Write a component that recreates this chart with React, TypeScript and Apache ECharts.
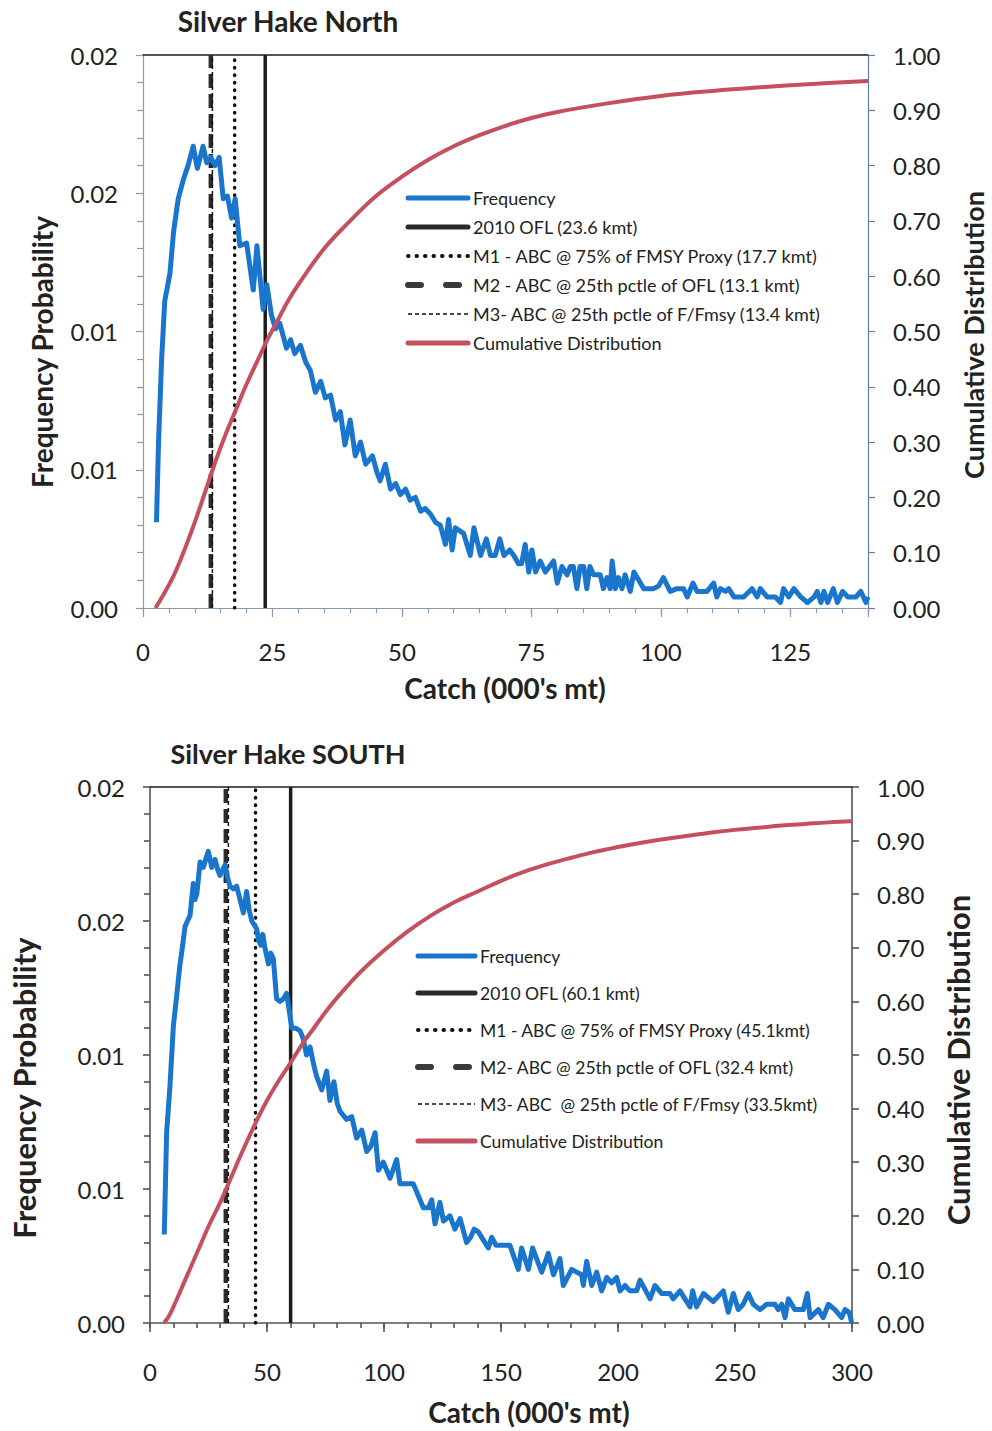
import React, { useEffect, useRef } from "react";
import * as echarts from "echarts";

const FONT = "Lato, 'Open Sans', sans-serif";
const BLUE = "#1a76cc";
const RED = "#c4505e";
const INK = "#222222";

// ---------- Silver Hake North ----------
const northTitle = "Silver Hake North";
const northFrequency: [number, number][] = [
  [2.6, 0.0031], [3.0, 0.006], [3.6, 0.009], [4.2, 0.0111], [5.2, 0.0121], [5.9, 0.0136], [6.8, 0.0148],
  [7.8, 0.0155], [8.7, 0.016], [9.7, 0.0167], [10.5, 0.0159], [11.6, 0.0167], [12.3, 0.0161], [13.1, 0.0163],
  [13.9, 0.016], [14.7, 0.0163], [15.5, 0.0148], [16.3, 0.0149], [17.1, 0.0141], [17.8, 0.0148], [18.7, 0.0131],
  [20.0, 0.0132], [21.3, 0.0115], [22.0, 0.0131], [23.2, 0.0108], [23.9, 0.0117], [24.8, 0.0106], [25.6, 0.0101],
  [26.4, 0.0103], [27.7, 0.0094], [28.5, 0.0097], [29.3, 0.0092], [30.4, 0.0095], [31.4, 0.0089], [32.3, 0.0086],
  [33.3, 0.0078], [34.3, 0.0082], [35.2, 0.0076], [36.2, 0.0077], [37.2, 0.0068], [38.1, 0.0071], [39.0, 0.0059],
  [40.0, 0.0068], [41.0, 0.0055], [42.0, 0.006], [43.0, 0.0052], [44.3, 0.0055], [45.2, 0.0049], [45.8, 0.0046],
  [46.8, 0.0052], [47.8, 0.0043], [48.8, 0.0045], [49.7, 0.0041], [50.7, 0.0043], [51.6, 0.0039], [52.6, 0.004],
  [53.6, 0.0035], [54.5, 0.0036], [55.5, 0.0034], [56.5, 0.0031], [57.4, 0.003], [58.4, 0.0023], [59.0, 0.0032],
  [59.7, 0.0021], [60.3, 0.0029], [61.9, 0.0027], [63.2, 0.0019], [63.9, 0.0029], [65.2, 0.0019], [66.3, 0.0025],
  [67.1, 0.0019], [68.0, 0.0019], [68.9, 0.0025], [69.7, 0.0019], [70.8, 0.0021], [71.6, 0.0019], [72.5, 0.0016],
  [73.1, 0.0016], [73.8, 0.0023], [74.5, 0.0013], [75.1, 0.0021], [75.8, 0.0013], [76.7, 0.0017], [77.7, 0.0013],
  [79.3, 0.0017], [80.0, 0.0009], [80.9, 0.0015], [81.9, 0.0012], [82.5, 0.0015], [83.1, 0.0015], [83.8, 0.0007],
  [84.4, 0.0015], [85.1, 0.0015], [85.7, 0.0007], [86.3, 0.0015], [87.0, 0.0012], [88.3, 0.0012], [88.9, 0.0007],
  [89.6, 0.0011], [90.2, 0.0007], [90.6, 0.0017], [91.2, 0.0007], [91.8, 0.0011], [92.5, 0.0007], [93.1, 0.0012],
  [94.1, 0.0006], [94.8, 0.0013], [96.7, 0.0007], [98.6, 0.0007], [99.6, 0.0008], [100.5, 0.0011], [101.8, 0.0006],
  [103.1, 0.0007], [104.4, 0.0007], [105.1, 0.0004], [106.2, 0.0009], [107.0, 0.0006], [108.9, 0.0006],
  [110.2, 0.0009], [110.8, 0.0004], [111.5, 0.0007], [112.5, 0.0006], [113.1, 0.0007], [114.1, 0.0004],
  [116.0, 0.0004], [117.6, 0.0007], [118.6, 0.0004], [119.2, 0.0007], [120.5, 0.0004], [122.1, 0.0004],
  [123.1, 0.0002], [123.7, 0.0007], [124.7, 0.0004], [125.7, 0.0007], [127.0, 0.0004], [128.3, 0.0002],
  [129.6, 0.0004], [130.2, 0.0006], [130.9, 0.0002], [131.5, 0.0006], [132.2, 0.0002], [133.3, 0.0007],
  [134.1, 0.0002], [135.1, 0.0006], [136.1, 0.0004], [137.7, 0.0004], [138.6, 0.0006], [139.6, 0.0002],
  [140.0, 0.0004],
];
const northCumulative: [number, number][] = [
  [2.4, 0], [4, 0.025], [6, 0.06], [8, 0.105], [10, 0.155], [12, 0.21], [14, 0.265], [16, 0.315], [18, 0.36],
  [20, 0.405], [22, 0.445], [24, 0.485], [26, 0.52], [28, 0.555], [30, 0.585], [35, 0.65], [40, 0.7], [45, 0.745],
  [50, 0.78], [55, 0.81], [60, 0.835], [65, 0.855], [70, 0.872], [75, 0.886], [80, 0.897], [90, 0.913],
  [100, 0.926], [110, 0.935], [120, 0.942], [130, 0.948], [140, 0.953],
];
const northRefNames = [
  "2010 OFL (23.6 kmt)",
  "M1 - ABC @ 75% of FMSY Proxy (17.7 kmt)",
  "M2 - ABC @ 25th pctle of OFL (13.1 kmt)",
  "M3- ABC @ 25th pctle of F/Fmsy (13.4 kmt)",
];
const northRefValues = [23.6, 17.7, 13.1, 13.4];

// ---------- Silver Hake SOUTH ----------
const southTitle = "Silver Hake SOUTH";
const southFrequency: [number, number][] = [
  [6.1, 0.0033], [7.1, 0.0071], [8.5, 0.0088], [10.0, 0.0111], [11.4, 0.0122], [12.7, 0.0133], [13.8, 0.014],
  [15.0, 0.0148], [16.0, 0.015], [17.1, 0.0152], [18.5, 0.0164], [19.2, 0.0158], [20.0, 0.016], [21.4, 0.0172],
  [22.8, 0.017], [23.8, 0.0173], [24.9, 0.0176], [26.4, 0.017], [27.8, 0.0173], [29.0, 0.0169], [29.9, 0.0167],
  [31.0, 0.0169], [32.1, 0.0171], [33.2, 0.0166], [34.2, 0.0163], [35.6, 0.0162], [37.0, 0.0163], [38.5, 0.0158],
  [39.9, 0.0153], [41.3, 0.0161], [42.4, 0.0154], [43.5, 0.015], [45.6, 0.0147], [46.4, 0.0143], [47.3, 0.0141],
  [48.2, 0.0145], [49.1, 0.014], [50.6, 0.0134], [51.6, 0.0138], [52.7, 0.0136], [54.1, 0.0121], [55.5, 0.012],
  [57.0, 0.0121], [58.4, 0.0123], [60.6, 0.011], [62.4, 0.011], [64.1, 0.0109], [65.5, 0.0106], [66.9, 0.01],
  [68.4, 0.0103], [69.8, 0.0097], [71.2, 0.0092], [73.4, 0.0087], [75.5, 0.0094], [76.9, 0.0083], [78.6, 0.009],
  [80.0, 0.0082], [81.2, 0.0079], [84.0, 0.0076], [86.2, 0.0077], [88.3, 0.0069], [90.5, 0.0072], [92.6, 0.0064],
  [94.4, 0.0066], [96.2, 0.0071], [97.6, 0.0057], [99.7, 0.006], [102.6, 0.0054], [105.4, 0.0061], [106.8, 0.0052],
  [108.3, 0.0052], [112.5, 0.0052], [116.8, 0.0043], [119.0, 0.0043], [120.4, 0.0046], [121.8, 0.0037],
  [123.9, 0.0045], [125.4, 0.0038], [128.2, 0.004], [130.3, 0.0035], [132.5, 0.0039], [135.3, 0.003],
  [137.0, 0.0032], [138.5, 0.0035], [140.3, 0.0034], [142.4, 0.0031], [144.6, 0.0028], [146.0, 0.0032],
  [147.9, 0.0029], [153.8, 0.0029], [157.4, 0.002], [158.8, 0.0028], [161.7, 0.002], [163.5, 0.0028],
  [165.2, 0.0024], [167.4, 0.0019], [170.2, 0.0026], [172.4, 0.0018], [175.2, 0.0024], [176.6, 0.0014],
  [180.2, 0.002], [182.3, 0.0019], [184.5, 0.0018], [185.2, 0.0014], [186.6, 0.0023], [188.8, 0.0014],
  [190.9, 0.0019], [193.0, 0.0012], [195.2, 0.0017], [197.3, 0.0015], [199.4, 0.0017], [200.9, 0.0012],
  [203.0, 0.0014], [205.1, 0.0012], [208.0, 0.0012], [209.4, 0.0016], [213.7, 0.0009], [215.8, 0.0014],
  [218.7, 0.0011], [222.2, 0.0011], [223.6, 0.0009], [226.5, 0.0012], [228.6, 0.0009], [230.8, 0.0006],
  [231.9, 0.0012], [233.6, 0.0006], [236.5, 0.0011], [240.7, 0.0008], [245.0, 0.0012], [247.1, 0.0004],
  [249.3, 0.0011], [251.4, 0.0005], [253.5, 0.0007], [255.7, 0.0011], [257.8, 0.0007], [260.7, 0.0005],
  [263.5, 0.0007], [267.1, 0.0007], [268.5, 0.0005], [270.0, 0.0007], [271.4, 0.0002], [272.8, 0.0009],
  [275.6, 0.0005], [279.2, 0.0005], [280.9, 0.0011], [282.1, 0.0002], [285.6, 0.0005], [287.7, 0.0002],
  [289.9, 0.0007], [292.7, 0.0005], [295.6, 0.0002], [297.0, 0.0005], [298.8, 0.0004], [299.9, 0.0],
];
const southCumulative: [number, number][] = [
  [6, 0], [8, 0.012], [10, 0.03], [15, 0.08], [20, 0.13], [25, 0.18], [30, 0.225], [35, 0.275], [40, 0.325],
  [45, 0.372], [50, 0.415], [55, 0.452], [60, 0.485], [65, 0.52], [70, 0.55], [75, 0.58], [80, 0.607],
  [90, 0.655], [100, 0.695], [110, 0.73], [120, 0.76], [130, 0.785], [140, 0.805], [150, 0.825], [160, 0.842],
  [170, 0.856], [180, 0.868], [190, 0.879], [200, 0.888], [210, 0.896], [220, 0.903], [230, 0.909], [240, 0.915],
  [250, 0.92], [260, 0.924], [270, 0.928], [280, 0.931], [290, 0.934], [300, 0.936],
];
const southRefNames = [
  "2010 OFL (60.1 kmt)",
  "M1 - ABC @ 75% of FMSY Proxy (45.1kmt)",
  "M2- ABC @ 25th pctle of OFL (32.4 kmt)",
  "M3- ABC  @ 25th pctle of F/Fmsy (33.5kmt)",
];
const southRefValues = [60.1, 45.1, 32.4, 33.5];

// ---------- Axis labels ----------
const freqTickLabels = ["0.00", "0.01", "0.01", "0.02", "0.02"];
const freqMax = 0.02;
const freqStep = 0.005;
const xAxisName = "Catch (000's mt)";
const leftAxisName = "Frequency Probability";
const rightAxisName = "Cumulative Distribution";
const freqName = "Frequency";
const cumName = "Cumulative Distribution";

const refStyles: any[] = [
  { color: "#1c1c1c", width: 3.5, type: "solid" },
  { color: "#111111", width: 3.5, type: [0.5, 7], cap: "round" },
  { color: "#2b2b2b", width: 4.5, type: [14, 6], cap: "butt" },
  { color: "#111111", width: 1.5, type: [4, 3] },
];
const refLegendStyles: any[] = [
  { color: "#2a2a2a", width: 5, type: "solid", cap: "round" },
  { color: "#111111", width: 4, type: [0.5, 8], cap: "round" },
  { color: "#3a3a3a", width: 6, type: [13, 25], cap: "round" },
  { color: "#111111", width: 1.5, type: [4, 3] },
];

function buildOption(c: any) {
  const axisLine = { show: true, onZero: false, lineStyle: { color: c.axisColor, width: c.axisWidth } };
  const tickStyle = { color: c.axisColor, width: c.axisWidth };
  const labelBase = { color: INK, fontFamily: FONT, fontSize: 24 };
  const refSeries = c.refNames.map((n: string, i: number) => ({
    type: "line",
    name: n,
    data: [[c.refValues[i], 0], [c.refValues[i], freqMax]],
    symbol: "none",
    silent: true,
    z: 2,
    lineStyle: refStyles[i],
    itemStyle: { color: refStyles[i].color },
  }));
  const nameFont = (s: number) => `bold ${s}px ${FONT}`;
  return {
    animation: false,
    grid: { left: c.grid.left, top: c.grid.top, width: c.grid.width, height: c.grid.height, containLabel: false },
    xAxis: [
      {
        type: "value", min: 0, max: c.xMax, interval: c.xStep, position: "bottom",
        axisLine, splitLine: { show: false },
        axisTick: { show: true, length: 5, lineStyle: tickStyle },
        axisLabel: {
          ...labelBase, interval: 0, margin: c.xLabelMargin,
          formatter: (v: number) => (v % c.xMajor === 0 ? String(v) : ""),
        },
      },
      {
        type: "value", min: 0, max: c.xMax, interval: c.xMajor, position: "bottom",
        axisLine: { show: false }, splitLine: { show: false }, axisLabel: { show: false },
        axisTick: { show: true, length: 9, lineStyle: tickStyle },
      },
      {
        type: "value", min: 0, max: c.xMax, interval: c.xMajor, position: "top",
        axisLine: { show: true, onZero: false, lineStyle: { color: "#1e1e1e", width: 1.5 } },
        splitLine: { show: false }, axisLabel: { show: false }, axisTick: { show: false },
      },
    ],
    yAxis: [
      {
        type: "value", min: 0, max: freqMax, interval: freqStep, position: "left",
        axisLine, splitLine: { show: false }, minorSplitLine: { show: false },
        axisTick: { show: true, length: 7, lineStyle: tickStyle },
        minorTick: { show: true, splitNumber: 5, length: 6, lineStyle: tickStyle },
        axisLabel: {
          ...labelBase, margin: 25,
          formatter: (v: number) => freqTickLabels[Math.round(v / freqStep)],
        },
      },
      {
        type: "value", min: 0, max: 1, interval: 0.1, position: "right",
        axisLine: { show: true, onZero: false, lineStyle: { color: c.rightAxisColor, width: c.axisWidth } },
        splitLine: { show: false },
        axisTick: { show: true, length: 7, lineStyle: { color: c.rightAxisColor, width: c.axisWidth } },
        axisLabel: { ...labelBase, margin: 25, formatter: (v: number) => v.toFixed(2) },
      },
    ],
    legend: {
      orient: "vertical",
      left: c.legend.left,
      top: c.legend.top,
      padding: 0,
      itemWidth: c.legend.itemWidth,
      itemHeight: 14,
      itemGap: c.legend.itemGap,
      selectedMode: false,
      itemStyle: { opacity: 0 },
      textStyle: { color: INK, fontFamily: FONT, fontSize: c.legend.fontSize, lineHeight: 20 },
      data: [
        { name: freqName, lineStyle: { color: BLUE, width: 5, cap: "round" } },
        ...c.refNames.map((n: string, i: number) => ({ name: n, lineStyle: refLegendStyles[i] })),
        { name: cumName, lineStyle: { color: RED, width: 5, cap: "round" } },
      ],
    },
    graphic: [
      { type: "text", x: c.title.x, y: c.title.y, style: { text: c.title.text, align: "center", verticalAlign: "middle", fill: INK, font: nameFont(c.title.size) } },
      { type: "text", x: c.leftName.x, y: c.leftName.y, rotation: Math.PI / 2, style: { text: leftAxisName, align: "center", verticalAlign: "middle", fill: INK, font: nameFont(c.leftName.size) } },
      { type: "text", x: c.rightName.x, y: c.rightName.y, rotation: Math.PI / 2, style: { text: rightAxisName, align: "center", verticalAlign: "middle", fill: INK, font: nameFont(c.rightName.size) } },
      { type: "text", x: c.xName.x, y: c.xName.y, style: { text: xAxisName, align: "center", verticalAlign: "middle", fill: INK, font: nameFont(c.xName.size) } },
    ],
    series: [
      ...refSeries,
      {
        type: "line", name: freqName, data: c.freq, symbol: "none", z: 3,
        lineStyle: { color: BLUE, width: 5, join: "round" }, itemStyle: { color: BLUE },
      },
      {
        type: "line", name: cumName, yAxisIndex: 1, data: c.cum, symbol: "none", z: 4,
        smooth: 0.4,
        lineStyle: { color: RED, width: 4 }, itemStyle: { color: RED },
      },
    ],
  };
}

const northCfg = {
  freq: northFrequency, cum: northCumulative, refNames: northRefNames, refValues: northRefValues,
  xMax: 140, xStep: 5, xMajor: 25, xLabelMargin: 31,
  grid: { left: 143, top: 55, width: 725, height: 553 },
  axisColor: "#8a9ab0", rightAxisColor: "#5f7fa8", axisWidth: 1.2,
  legend: { left: 405, top: 188, itemWidth: 60, itemGap: 9, fontSize: 18 },
  title: { text: northTitle, x: 288, y: 21, size: 28 },
  leftName: { x: 42, y: 352, size: 28 },
  rightName: { x: 973, y: 335, size: 27 },
  xName: { x: 505, y: 688, size: 28 },
};

const southCfg = {
  freq: southFrequency, cum: southCumulative, refNames: southRefNames, refValues: southRefValues,
  xMax: 300, xStep: 10, xMajor: 50, xLabelMargin: 36,
  grid: { left: 150, top: 67, width: 702, height: 536 },
  axisColor: "#555555", rightAxisColor: "#555555", axisWidth: 1.6,
  legend: { left: 415, top: 226, itemWidth: 57, itemGap: 17, fontSize: 17.5 },
  title: { text: southTitle, x: 288, y: 33, size: 27 },
  leftName: { x: 24, y: 368, size: 31 },
  rightName: { x: 958, y: 340, size: 31 },
  xName: { x: 529, y: 692, size: 28 },
};

export default function App() {
  const r1 = useRef<HTMLDivElement>(null);
  const r2 = useRef<HTMLDivElement>(null);
  useEffect(() => {
    const c1 = echarts.init(r1.current!, null, { renderer: "svg" });
    c1.setOption(buildOption(northCfg));
    const c2 = echarts.init(r2.current!, null, { renderer: "svg" });
    c2.setOption(buildOption(southCfg));
    return () => {
      c1.dispose();
      c2.dispose();
    };
  }, []);
  return (
    <div style={{ position: "absolute", left: 0, top: 0, width: 992, height: 1431, background: "#ffffff" }}>
      <div ref={r1} style={{ position: "absolute", left: 0, top: 0, width: 992, height: 720 }} />
      <div ref={r2} style={{ position: "absolute", left: 0, top: 720, width: 992, height: 711 }} />
    </div>
  );
}
